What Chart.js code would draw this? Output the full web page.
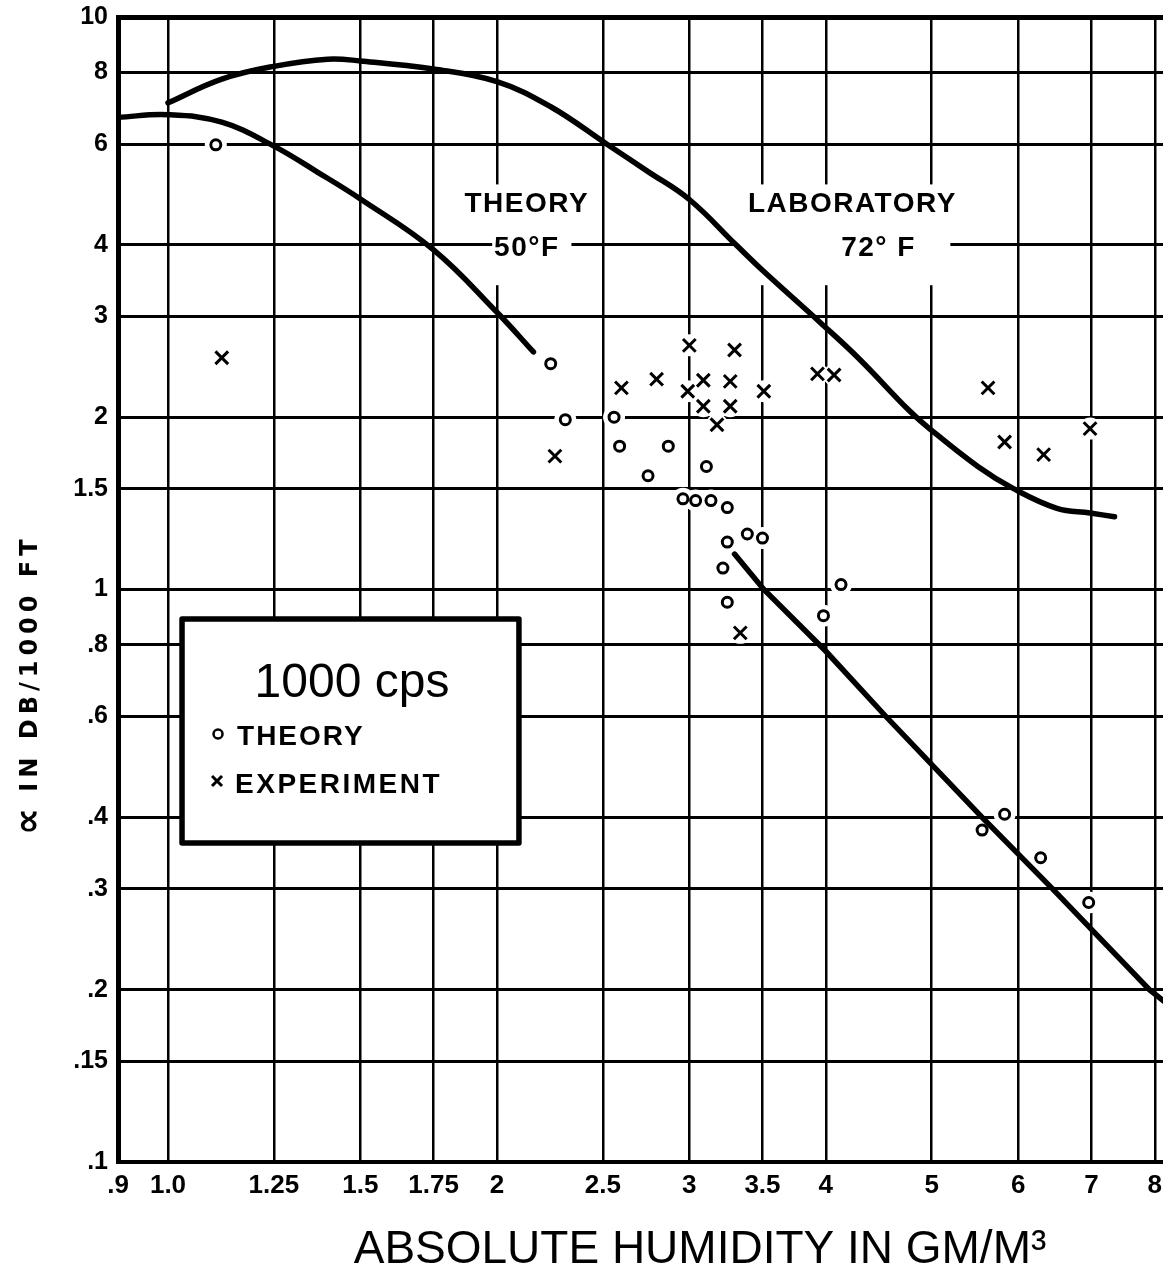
<!DOCTYPE html>
<html><head><meta charset="utf-8">
<style>html,body{margin:0;padding:0;background:#fff;}canvas{display:block;}</style>
<script src="https://cdn.jsdelivr.net/npm/chart.js@4.4.1/dist/chart.umd.min.js"></script>
</head><body>
<canvas id="c" width="1163" height="1285"></canvas>
<script>
// ---- tick values / labels ----
const xTickValues = [0.9, 1, 1.25, 1.5, 1.75, 2, 2.5, 3, 3.5, 4, 5, 6, 7, 8];
const xTickLabels = [".9", "1.0", "1.25", "1.5", "1.75", "2", "2.5", "3", "3.5", "4", "5", "6", "7", "8"];
const yTickValues = [0.1, 0.15, 0.2, 0.3, 0.4, 0.6, 0.8, 1, 1.5, 2, 3, 4, 6, 8, 10];
const yTickLabels = [".1", ".15", ".2", ".3", ".4", ".6", ".8", "1", "1.5", "2", "3", "4", "6", "8", "10"];

// ---- data: theory points (o) ----
const theoryX = [1.106, 2.24, 2.31, 2.56, 2.59, 2.87, 2.75, 3.11, 2.96, 3.04, 3.14, 3.25, 3.25, 3.39, 3.50, 3.22, 3.25, 4.13, 3.98, 5.56, 5.83, 6.29, 6.96];
const theoryY = [5.98, 2.48, 1.98, 2.0, 1.78, 1.78, 1.58, 1.64, 1.44, 1.43, 1.43, 1.39, 1.21, 1.25, 1.23, 1.09, 0.95, 1.02, 0.90, 0.38, 0.405, 0.34, 0.284];

// ---- data: experiment points (x) ----
const experimentX = [1.12, 2.26, 2.60, 2.80, 3.0, 2.99, 3.09, 3.09, 3.18, 3.30, 3.27, 3.27, 3.51, 3.93, 4.07, 3.34, 5.63, 5.83, 6.33, 6.98];
const experimentY = [2.54, 1.71, 2.25, 2.33, 2.67, 2.22, 2.32, 2.09, 1.94, 2.62, 2.31, 2.09, 2.22, 2.38, 2.37, 0.84, 2.25, 1.81, 1.72, 1.91];

// ---- curves ----
const curveLowX = [0.9, 1.0, 1.12, 1.25, 1.37, 1.5, 1.75, 2.0, 2.16];
const curveLowY = [6.68, 6.75, 6.55, 5.95, 5.36, 4.81, 3.92, 3.05, 2.6];
const curveHighX = [1.0, 1.12, 1.25, 1.4, 1.5, 1.75, 2.0, 2.24, 2.52, 2.75, 3.0, 3.31, 3.5, 3.95, 4.29, 4.76, 4.96, 5.51, 5.94, 6.51, 6.98, 7.35];
const curveHighY = [7.08, 7.79, 8.2, 8.44, 8.38, 8.11, 7.71, 6.97, 6.0, 5.37, 4.8, 4.0, 3.61, 2.93, 2.53, 2.06, 1.92, 1.64, 1.50, 1.386, 1.36, 1.34];
const lineX = [3.30, 3.51, 4.0, 4.54, 5.56, 6.45, 7.91, 8.3];
const lineY = [1.153, 1.0, 0.78, 0.60, 0.40, 0.30, 0.20, 0.186];

const FONT = "'Liberation Sans', Arial, sans-serif";
const pts = (xs, ys) => xs.map((x, i) => ({x: x, y: ys[i]}));

const annotationPlugin = {
  id: 'annot',
  beforeDatasetsDraw(chart) {
    const c = chart.ctx, xs = chart.scales.x, ys = chart.scales.y;
    c.save();
    c.fillStyle = '#fff';
    const box = (x0, x1, y0, y1) => {
      const a = xs.getPixelForValue(x0), b = xs.getPixelForValue(x1);
      const t = ys.getPixelForValue(y0), u = ys.getPixelForValue(y1);
      c.fillRect(a, t, b - a, u - t);
    };
    box(1.98, 2.34, 5.1, 3.4);
    box(3.32, 5.2, 5.1, 3.4);
    const lb = chart.$legendBox = {
      l: xs.getPixelForValue(1.03), r: xs.getPixelForValue(2.095),
      t: ys.getPixelForValue(0.888), b: ys.getPixelForValue(0.3606)
    };
    c.fillRect(lb.l, lb.t, lb.r - lb.l, lb.b - lb.t);
    [0, 1].forEach(i => {
      chart.getDatasetMeta(i).data.forEach(el => {
        c.beginPath(); c.arc(el.x, el.y, 11, 0, Math.PI * 2); c.fill();
      });
    });
    c.restore();
  },
  afterDraw(chart) {
    const c = chart.ctx, xs = chart.scales.x, ys = chart.scales.y;
    c.save();
    c.fillStyle = '#000';
    c.strokeStyle = '#000';
    c.textBaseline = 'middle';
    c.textAlign = 'center';
    c.font = 'bold 28px ' + FONT;
    c.letterSpacing = '1.5px';
    c.fillText('THEORY', xs.getPixelForValue(2.13), ys.getPixelForValue(4.70));
    c.fillText('50°F', xs.getPixelForValue(2.13), ys.getPixelForValue(3.95));
    c.fillText('LABORATORY', xs.getPixelForValue(4.23), ys.getPixelForValue(4.70));
    c.fillText('72° F', xs.getPixelForValue(4.47), ys.getPixelForValue(3.95));

    const lb = chart.$legendBox;
    c.lineWidth = 5.5;
    c.lineJoin = 'round';
    c.strokeRect(lb.l, lb.t, lb.r - lb.l, lb.b - lb.t);
    c.letterSpacing = '0px';
    c.textBaseline = 'alphabetic';
    c.font = '48px ' + FONT;
    c.fillText('1000 cps', lb.l + 170, lb.t + 78);
    c.textAlign = 'left';
    c.font = 'bold 28px ' + FONT;
    c.letterSpacing = '2px';
    c.fillText(chart.data.datasets[0].label, lb.l + 55, lb.t + 126);
    c.letterSpacing = '2.5px';
    c.fillText(chart.data.datasets[1].label, lb.l + 53, lb.t + 174);
    c.lineWidth = 2.5;
    c.beginPath(); c.arc(lb.l + 36, lb.t + 115, 4.5, 0, Math.PI * 2); c.stroke();
    c.lineWidth = 3;
    const mx = lb.l + 35, my = lb.t + 162;
    c.beginPath();
    c.moveTo(mx - 5, my - 5); c.lineTo(mx + 5, my + 5);
    c.moveTo(mx + 5, my - 5); c.lineTo(mx - 5, my + 5);
    c.stroke();

    // axis titles
    c.letterSpacing = '0px';
    c.textAlign = 'center';
    c.textBaseline = 'middle';
    c.font = '46px ' + FONT;
    c.fillText('ABSOLUTE HUMIDITY IN GM/M³', 700, 1250);
    c.save();
    c.translate(30, 0);
    c.rotate(-Math.PI / 2);
    c.textAlign = 'left';
    c.textBaseline = 'middle';
    c.font = "bold 38px 'DejaVu Sans', sans-serif";
    c.fillText('∝', -835, 0);
    c.font = "bold 24px 'DejaVu Sans', sans-serif";
    c.letterSpacing = '5px';
    c.fillText(' IN DB/1000 FT', -805, 1);
    c.restore();
    c.restore();
  }
};

new Chart(document.getElementById('c').getContext('2d'), {
  type: 'scatter',
  data: {
    datasets: [
      {label: 'THEORY', data: pts(theoryX, theoryY), pointStyle: 'circle', pointRadius: 5,
       pointBorderWidth: 3, borderColor: '#000', backgroundColor: '#fff', showLine: false},
      {label: 'EXPERIMENT', data: pts(experimentX, experimentY), pointStyle: 'crossRot', pointRadius: 9,
       pointBorderWidth: 3, borderColor: '#000', backgroundColor: '#000', showLine: false},
      {label: 'Theory curve', type: 'line', data: pts(curveLowX, curveLowY), borderColor: '#000',
       borderWidth: 5.5, pointRadius: 0, tension: 0.4, fill: false, borderCapStyle: 'round'},
      {label: 'Laboratory curve', type: 'line', data: pts(curveHighX, curveHighY), borderColor: '#000',
       borderWidth: 5.5, pointRadius: 0, tension: 0.4, fill: false, borderCapStyle: 'round'},
      {label: 'Theory line', type: 'line', data: pts(lineX, lineY), borderColor: '#000',
       borderWidth: 5.5, pointRadius: 0, tension: 0, fill: false, borderCapStyle: 'round'}
    ]
  },
  options: {
    responsive: false,
    animation: false,
    devicePixelRatio: 1,
    layout: {autoPadding: false, padding: {top: 17, left: 0, right: 0, bottom: 0}},
    plugins: {legend: {display: false}, tooltip: {enabled: false}},
    scales: {
      x: {
        type: 'logarithmic', min: 0.9, max: 8.14, position: 'bottom',
        afterBuildTicks: s => { s.ticks = xTickValues.map(v => ({value: v})); },
        afterFit: s => { s.height = 123; s.paddingLeft = 0; s.paddingRight = 0; },
        ticks: {autoSkip: false, maxRotation: 0, minRotation: 0, padding: 8, color: '#000',
                font: {family: FONT, weight: 'bold', size: 26},
                callback: (v, i) => xTickLabels[i]},
        grid: {color: '#000', lineWidth: 2.5, drawTicks: false},
        border: {color: '#000', width: 4}
      },
      y: {
        type: 'logarithmic', min: 0.1, max: 10, position: 'left',
        afterBuildTicks: s => { s.ticks = yTickValues.map(v => ({value: v})); },
        afterFit: s => { s.width = 118; s.paddingTop = 0; s.paddingBottom = 0; },
        ticks: {autoSkip: false, padding: 10, color: '#000',
                font: {family: FONT, weight: 'bold', size: 25},
                callback: (v, i) => yTickLabels[i]},
        grid: {color: '#000', lineWidth: c => (c.tick && c.tick.value === 10) ? 5 : 3, drawTicks: false},
        border: {color: '#000', width: 5}
      }
    }
  },
  plugins: [annotationPlugin]
});
</script>
</body></html>
